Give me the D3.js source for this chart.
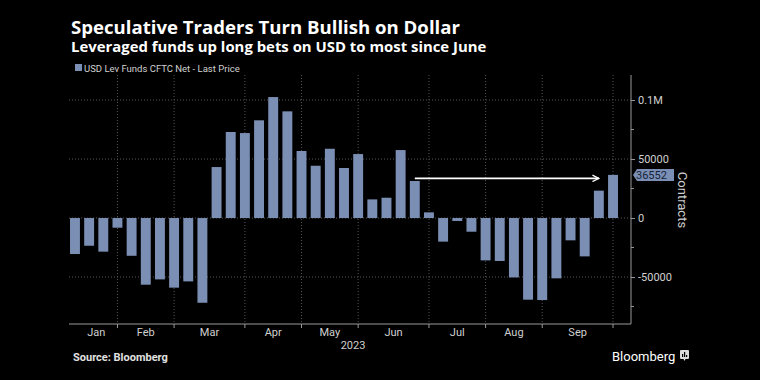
<html>
<head>
  <style>
    body { margin: 0; background: #000; }
    text { font-family: Roboto, "Liberation Sans", sans-serif; }
    .title { font-family: "Open Sans", sans-serif; font-weight: 700; fill: #fff; }
    .tick text { fill: #d0d0d0; font-size: 11px; }
    .grid line { stroke: #555; stroke-dasharray: 1,2; }
  </style>
  <script src="https://d3js.org/d3.v7.min.js"></script>
</head>
<body>
<svg id="chart" width="760" height="380"></svg>
<script>
// weekly CFTC leveraged-fund net USD positions, 2023
var dates = ["2023-01-13","2023-01-20","2023-01-27","2023-02-03","2023-02-10","2023-02-17","2023-02-24",
  "2023-03-03","2023-03-10","2023-03-17","2023-03-24","2023-03-31","2023-04-07","2023-04-14","2023-04-21",
  "2023-04-28","2023-05-05","2023-05-12","2023-05-19","2023-05-26","2023-06-02","2023-06-09","2023-06-16",
  "2023-06-23","2023-06-30","2023-07-07","2023-07-14","2023-07-21","2023-07-28","2023-08-04","2023-08-11",
  "2023-08-18","2023-08-25","2023-09-01","2023-09-08","2023-09-15","2023-09-22","2023-09-29","2023-10-06"];
var values = [-30500,-23500,-28500,-8200,-32000,-56500,-52000,-59000,-53700,-71800,
  43200,72900,72000,82800,102500,90400,56800,44300,58700,42400,
  54200,15800,17200,57600,31400,4800,-20000,-2500,-11600,-35900,
  -36400,-50300,-69200,-69500,-51100,-18900,-32500,23200,36552];
var monthLabels = ["Jan","Feb","Mar","Apr","May","Jun","Jul","Aug","Sep"];
var yTicks = [-50000, 0, 50000, 100000];
var yTickLabels = ["-50000", "0", "50000", "0.1M"];
var yMinor = [-75000, -25000, 25000, 75000];
var lastValue = 36552;
var arrowFrom = "2023-06-30", arrowTo = "2023-09-29", arrowLevel = 33600;

(function() {
var svg = d3.select("#chart");
var pLeft = 69, pRight = 631, pTop = 75, pBottom = 324;
var barColor = "#7b8fb4";

svg.append("rect").attr("width", 760).attr("height", 380).attr("fill", "#000");

var x = d3.scaleBand().domain(dates).range([67.9, 620.1]).paddingInner(0.3).paddingOuter(0.15);
var y = d3.scaleLinear().domain([-89800, 121200]).range([pBottom, pTop]);
var cx = function(d) { return x(d) + x.bandwidth() / 2; };

// first bar of each month -> month boundary
var firsts = [];
dates.forEach(function(d, i) {
  if (i == 0 || d.slice(5, 7) != dates[i - 1].slice(5, 7)) firsts.push(d);
});

// grid
var grid = svg.append("g").attr("class", "grid");
grid.selectAll("line.h").data(yTicks).enter().append("line")
  .attr("x1", pLeft).attr("x2", pRight)
  .attr("y1", function(d) { return y(d); }).attr("y2", function(d) { return y(d); });
grid.selectAll("line.v").data(firsts.slice(1)).enter().append("line")
  .attr("x1", cx).attr("x2", cx).attr("y1", pTop).attr("y2", pBottom);

// bars
svg.append("g").selectAll("rect").data(values).enter().append("rect")
  .attr("x", function(d, i) { return x(dates[i]); })
  .attr("width", x.bandwidth())
  .attr("y", function(d) { return y(Math.max(0, d)); })
  .attr("height", function(d) { return Math.abs(y(d) - y(0)); })
  .attr("fill", barColor);

// right axis
var yAxis = d3.axisRight(y).tickValues(yTicks).tickSize(4).tickPadding(3)
  .tickFormat(function(d, i) { return yTickLabels[i]; });
var ya = svg.append("g").attr("transform", "translate(" + pRight + ",0)").call(yAxis);
ya.select(".domain").attr("stroke", "#999").attr("d", "M0," + pTop + "V" + pBottom);
ya.selectAll(".tick line").attr("stroke", "#999");
ya.selectAll(".minor").data(yMinor).enter().append("line")
  .attr("x1", 0).attr("x2", 3).attr("stroke", "#999")
  .attr("y1", function(d) { return y(d); }).attr("y2", function(d) { return y(d); });

// bottom axis
svg.append("line").attr("x1", pLeft).attr("x2", pRight).attr("y1", pBottom).attr("y2", pBottom).attr("stroke", "#999");
svg.selectAll(".xt").data(firsts.slice(1)).enter().append("line")
  .attr("x1", cx).attr("x2", cx).attr("y1", pBottom).attr("y2", pBottom + 4).attr("stroke", "#999");
var bounds = firsts.map(cx);
svg.selectAll(".ml").data(monthLabels).enter().append("text")
  .attr("x", function(d, i) { return (bounds[i] + bounds[i + 1]) / 2; })
  .attr("y", 336).attr("text-anchor", "middle").attr("fill", "#d0d0d0").attr("font-size", 11)
  .text(function(d) { return d; });
svg.append("text").attr("x", 353).attr("y", 349).attr("text-anchor", "middle")
  .attr("fill", "#d0d0d0").attr("font-size", 11).text("2023");

// arrow annotation
var defs = svg.append("defs");
defs.append("marker").attr("id", "arr").attr("viewBox", "0 0 10 10").attr("refX", 9).attr("refY", 5)
  .attr("markerWidth", 8).attr("markerHeight", 8).attr("markerUnits", "userSpaceOnUse").attr("orient", "auto")
  .append("path").attr("d", "M1,1L9,5L1,9").attr("fill", "none").attr("stroke", "#fff").attr("stroke-width", 1.6);
svg.append("line").attr("x1", cx(arrowFrom)).attr("x2", cx(arrowTo))
  .attr("y1", y(arrowLevel)).attr("y2", y(arrowLevel))
  .attr("stroke", "#fff").attr("stroke-width", 1.6).attr("marker-end", "url(#arr)");

// last value tag
var ty = y(lastValue);
svg.append("path")
  .attr("d", "M" + (pRight + 2) + "," + ty + "L" + (pRight + 6) + "," + (ty - 6) + "H674V" + (ty + 6) + "H" + (pRight + 6) + "Z")
  .attr("fill", barColor);
svg.append("text").attr("x", 636).attr("y", ty + 4).attr("fill", "#15233a").attr("font-size", 11).text(lastValue);

svg.append("text").attr("transform", "translate(678,200) rotate(90)").attr("text-anchor", "middle")
  .attr("fill", "#d0d0d0").attr("font-size", 13).text("Contracts");

// titles & legend
svg.append("text").attr("class", "title").attr("x", 71).attr("y", 34).attr("font-size", 18.6)
  .text("Speculative Traders Turn Bullish on Dollar");
svg.append("text").attr("class", "title").attr("x", 71).attr("y", 51.5).attr("font-size", 14.9)
  .text("Leveraged funds up long bets on USD to most since June");
svg.append("rect").attr("x", 75).attr("y", 64).attr("width", 7).attr("height", 7).attr("fill", barColor);
svg.append("text").attr("x", 84).attr("y", 71.5).attr("fill", "#d0d0d0").attr("font-size", 9.5)
  .text("USD Lev Funds CFTC Net - Last Price");

// footer
svg.append("text").attr("x", 73).attr("y", 361).attr("fill", "#e0e0e0").attr("font-size", 11)
  .attr("font-weight", 700).text("Source: Bloomberg");
svg.append("text").attr("x", 612).attr("y", 361).attr("fill", "#fff").attr("font-size", 13).text("Bloomberg");
var logo = svg.append("g").attr("transform", "translate(680,350)");
logo.append("path").attr("d", "M1,0H8Q9,0 9,1V8Q9,9 8,9H5.5L4.5,11L3.5,9H1Q0,9 0,8V1Q0,0 1,0Z").attr("fill", "#ddd");
logo.selectAll("rect").data([[2, 4, 3], [4, 2, 5], [6, 5, 2]]).enter().append("rect")
  .attr("x", function(d) { return d[0]; }).attr("y", function(d) { return d[1]; })
  .attr("width", 1.2).attr("height", function(d) { return d[2]; }).attr("fill", "#000");
})();
</script>
</body>
</html>
